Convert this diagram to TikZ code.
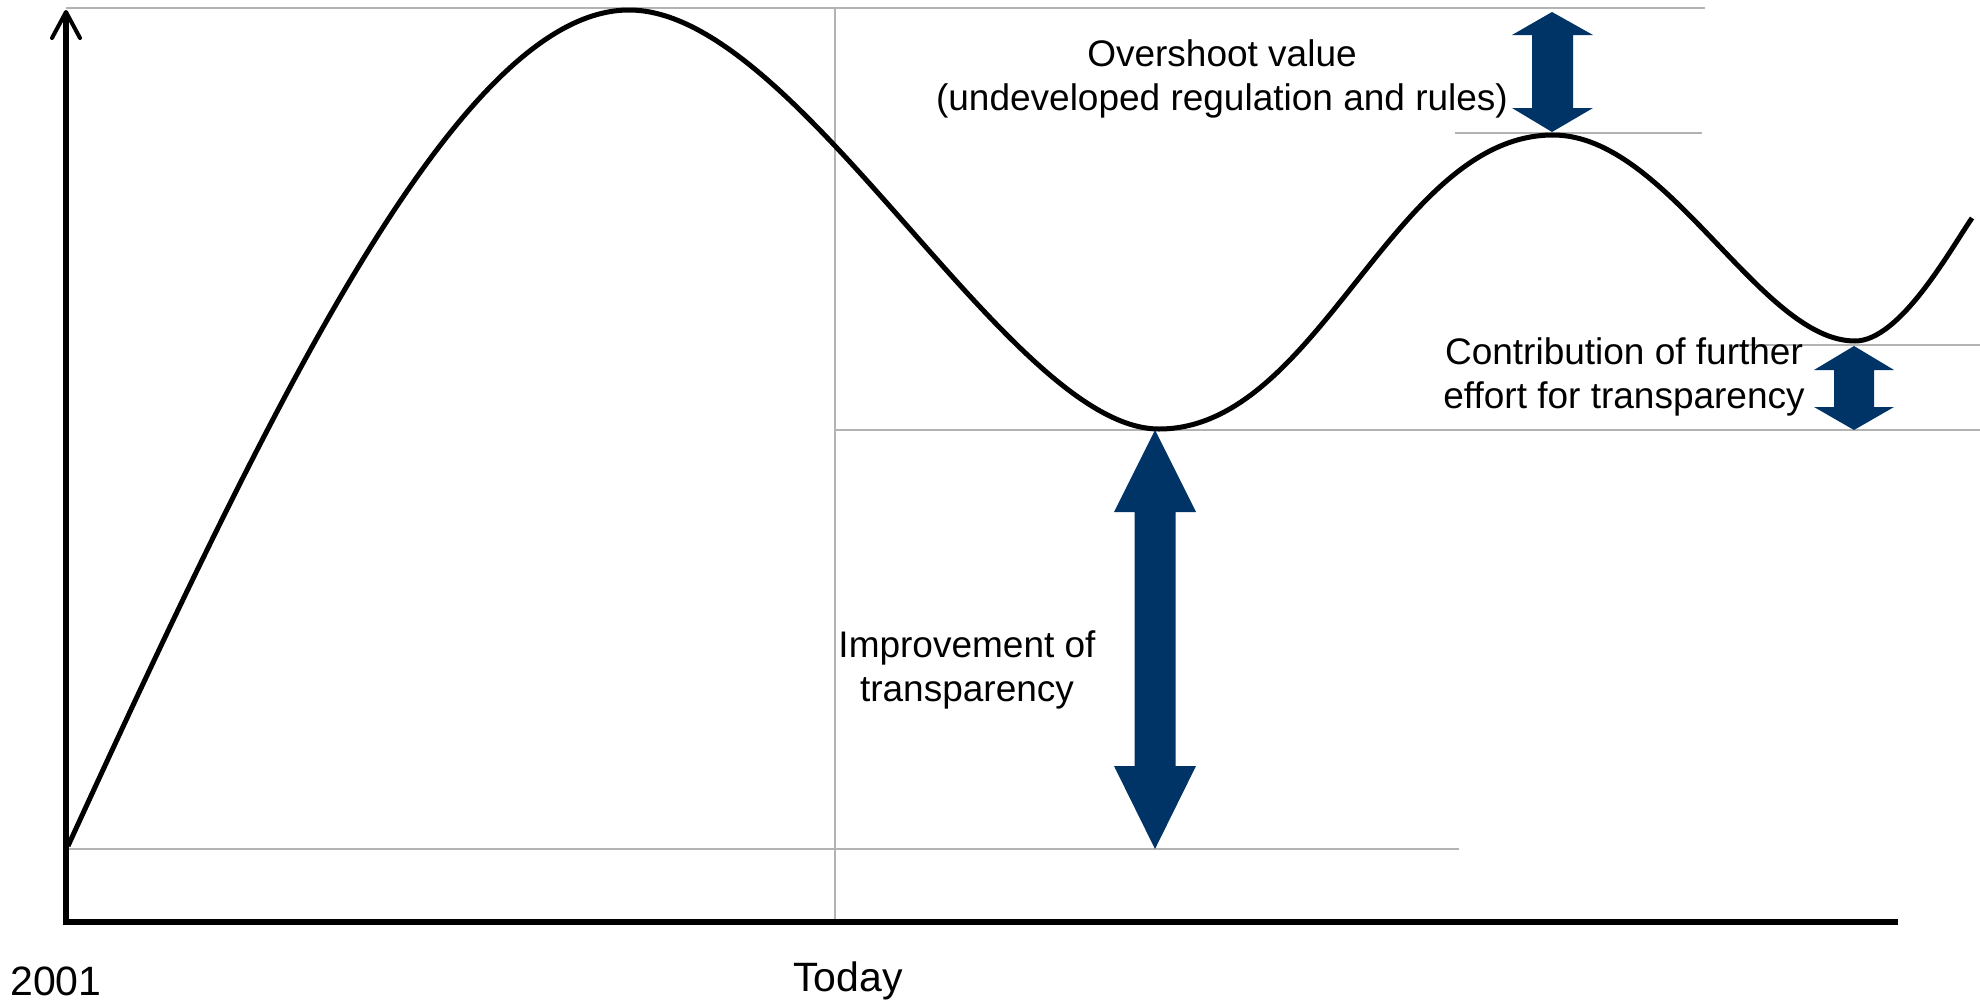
\documentclass[tikz,border=0pt]{standalone}
\usepackage{fontspec}
\setmainfont{Liberation Sans}
\definecolor{navy}{RGB}{0,51,102}
\definecolor{guide}{RGB}{179,179,179}
\begin{document}
\begin{tikzpicture}[x=1pt,y=-1pt,
  guideline/.style={draw=guide,line width=2pt},
  axisline/.style={draw=black,line width=5.5pt},
  curveline/.style={draw=black,line width=5pt},
  blockarrow/.style={fill=navy},
  lbl/.style={inner sep=0pt,align=center,font=\fontsize{37}{44}\selectfont},
  axlbl/.style={inner sep=0pt,font=\fontsize{41}{48}\selectfont}]
\useasboundingbox (0,0) rectangle (1980,1004);
% guide lines
\draw[guideline] (66,7.5) -- (1705,7.5);
\draw[guideline] (1455,133) -- (1702,133);
\draw[guideline] (1736,345) -- (1980,345);
\draw[guideline] (835,430) -- (1980,430);
\draw[guideline] (66,849) -- (1459,849);
\draw[guideline] (835,7.5) -- (835,922);
% axes
\draw[axisline] (66,925) -- (66,13);
\draw[draw=black,line width=4pt,line cap=round,line join=round] (52,38) -- (66,12) -- (80,38);
\draw[axisline] (63,922) -- (1898,922);
% curve
\draw[curveline] (68,846) .. controls (268,410) and (459,10) .. (629,10)
  .. controls (799,10) and (1009,429) .. (1159,429)
  .. controls (1319,429) and (1393,135) .. (1553,135)
  .. controls (1668,135) and (1760,341) .. (1855,341)
  .. controls (1900,341) and (1950,250) .. (1972,218);
% block arrows
\fill[blockarrow] (1552,12) -- (1593,35) -- (1573,35) -- (1573,108) -- (1593,108) -- (1552,132) -- (1512,108) -- (1532,108) -- (1532,35) -- (1512,35) -- cycle;
\fill[blockarrow] (1854,346) -- (1894,370) -- (1874,370) -- (1874,407) -- (1894,407) -- (1854,430) -- (1814,407) -- (1834,407) -- (1834,370) -- (1814,370) -- cycle;
\fill[blockarrow] (1155,430) -- (1196,512) -- (1175.5,512) -- (1175.5,766) -- (1196,766) -- (1155,849) -- (1114,766) -- (1134.5,766) -- (1134.5,512) -- (1114,512) -- cycle;
% labels
\node[lbl] (over) at (1222,79) {Overshoot value\\(undeveloped regulation and rules)};
\node[lbl] (contrib) at (1624,377) {Contribution of further\\effort for transparency};
\node[lbl] (improve) at (967,670) {Improvement of\\transparency};
\node[axlbl] (y2001) at (56,981) {2001};
\node[axlbl] (today) at (848,981) {Today};
\end{tikzpicture}
\end{document}
